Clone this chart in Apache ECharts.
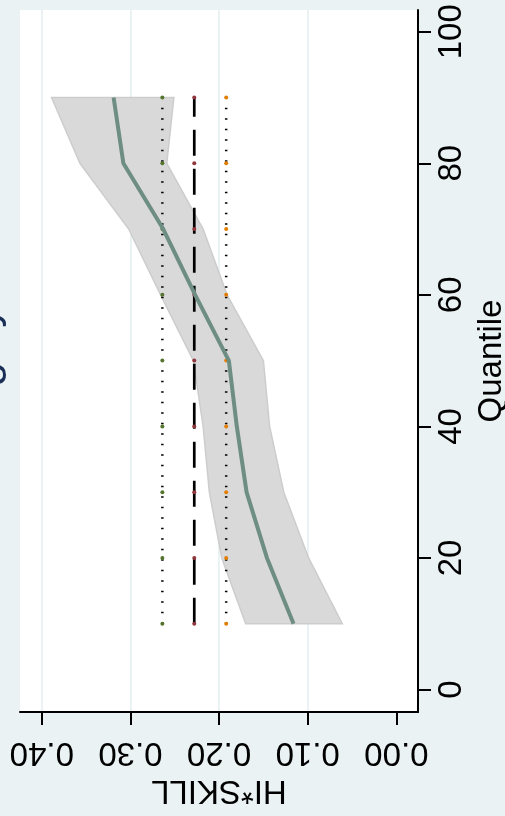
<!DOCTYPE html>
<html>
<head>
<meta charset="utf-8">
<script src="https://cdn.jsdelivr.net/npm/echarts@6/dist/echarts.min.js"></script>
<style>
html, body { margin: 0; padding: 0; background: #eaf2f3; }
#chart { width: 505px; height: 816px; }
</style>
</head>
<body>
<div id="chart"></div>
<script>
// quantile groups and estimates of HI*SKILL
const quantiles = [10, 20, 30, 40, 50, 60, 70, 80, 90]
const estimate = [0.116, 0.146, 0.169, 0.180, 0.189, 0.227, 0.263, 0.308, 0.319]
const ciLow = [0.061, 0.099, 0.127, 0.143, 0.150, 0.191, 0.218, 0.259, 0.251]
const ciHigh = [0.170, 0.197, 0.211, 0.218, 0.229, 0.266, 0.302, 0.357, 0.389]
// OLS coefficient and its bounds, drawn across all quantiles
const olsMid = 0.228
const olsLow = 0.192
const olsHigh = 0.264
const skillTicks = [0, 0.1, 0.2, 0.3, 0.4]
const quantileTicks = [0, 20, 40, 60, 80, 100]
const titleText = 'Highly'

const font = 'Liberation Sans, Arial, sans-serif'
const myChart = echarts.init(document.getElementById('chart'))

function flat (v) {
  return quantiles.map(q => [v, q])
}

const option = {
  backgroundColor: '#eaf2f3',
  animation: false,
  grid: {
    left: 20, right: 87, top: 10, bottom: 104,
    outerBoundsMode: 'none', containLabel: false,
    show: true, backgroundColor: '#ffffff', borderWidth: 0
  },
  graphic: [
    {
      type: 'text', x: 7, y: 428, rotation: Math.PI / 2,
      style: {
        text: titleText, fill: '#1a2f55', font: '44px ' + font,
        textAlign: 'left', textVerticalAlign: 'bottom'
      }
    }
  ],
  xAxis: {
    type: 'value', inverse: true, min: -0.0244, max: 0.4246,
    name: 'HI*SKILL', nameLocation: 'middle', nameGap: 62, nameRotate: 180,
    nameTextStyle: { fontSize: 33, fontFamily: font, color: '#000' },
    axisLine: { show: true, onZero: false, lineStyle: { color: '#000', width: 2 } },
    axisTick: { show: true, length: 13, customValues: skillTicks, lineStyle: { color: '#000', width: 2 } },
    axisLabel: {
      customValues: skillTicks, rotate: 180, margin: 24,
      fontSize: 33, fontFamily: font, color: '#000',
      formatter: v => v.toFixed(2)
    },
    splitLine: { show: true, showMinLine: false, lineStyle: { color: '#eaf2f3', width: 2 } }
  },
  yAxis: {
    type: 'value', position: 'right', min: -3.42, max: 103.3,
    name: 'Quantile', nameLocation: 'middle', nameGap: 54, nameRotate: 90,
    nameTextStyle: { fontSize: 33, fontFamily: font, color: '#000' },
    axisLine: { show: true, onZero: false, lineStyle: { color: '#000', width: 2 } },
    axisTick: { show: true, length: 13, customValues: quantileTicks, lineStyle: { color: '#000', width: 2 } },
    axisLabel: {
      customValues: quantileTicks, rotate: 90, margin: 17,
      fontSize: 33, fontFamily: font, color: '#000'
    },
    splitLine: { show: false }
  },
  series: [
    {
      type: 'custom',
      data: quantiles.map((q, i) => [ciLow[i], q, ciHigh[i]]),
      encode: { x: [0, 2], y: 1 },
      renderItem (params, api) {
        if (params.dataIndex !== 0) return
        const pts = []
        quantiles.forEach((q, i) => pts.push(api.coord([ciHigh[i], q])))
        for (let i = quantiles.length - 1; i >= 0; i--) pts.push(api.coord([ciLow[i], quantiles[i]]))
        return {
          type: 'polygon',
          shape: { points: pts },
          style: { fill: '#d9d9d9', stroke: '#cdcdcd', lineWidth: 1.5 }
        }
      },
      z: 1
    },
    {
      type: 'line', data: flat(olsHigh), symbol: 'circle', symbolSize: 4,
      itemStyle: { color: '#55752f' },
      lineStyle: { color: '#000', width: 2.5, type: [1.5, 9] }, z: 3
    },
    {
      type: 'line', data: flat(olsMid), symbol: 'circle', symbolSize: 4,
      itemStyle: { color: '#90353b' },
      lineStyle: { color: '#000', width: 2.7, type: [26, 13] }, z: 3
    },
    {
      type: 'line', data: flat(olsLow), symbol: 'circle', symbolSize: 4,
      itemStyle: { color: '#e37e00' },
      lineStyle: { color: '#000', width: 2.5, type: [1.5, 9] }, z: 3
    },
    {
      type: 'line', data: quantiles.map((q, i) => [estimate[i], q]),
      showSymbol: false, lineStyle: { color: '#6e8e84', width: 4 }, z: 4
    }
  ]
}
myChart.setOption(option)
</script>
</body>
</html>
